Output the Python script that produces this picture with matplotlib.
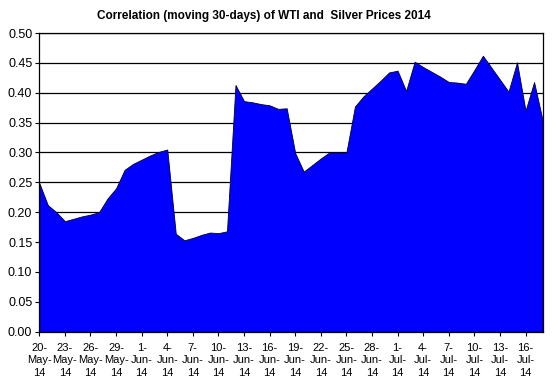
import matplotlib
matplotlib.use("Agg")
import matplotlib.pyplot as plt
import numpy as np

plt.rcParams['font.family'] = ['Liberation Sans', 'DejaVu Sans']

# daily values, 20-May-14 .. 18-Jul-14
start_label = "20-May-14"
correlation = [
    0.249, 0.212, 0.200, 0.185, 0.189, 0.193, 0.196, 0.200, 0.223, 0.240,
    0.271, 0.281, 0.288, 0.295, 0.301, 0.305, 0.164, 0.153, 0.157, 0.162,
    0.166, 0.165, 0.168, 0.413, 0.386, 0.384, 0.381, 0.379, 0.373, 0.374,
    0.299, 0.268, 0.279, 0.290, 0.300, 0.300, 0.300, 0.377, 0.394, 0.407,
    0.420, 0.434, 0.437, 0.403, 0.452, 0.443, 0.435, 0.427, 0.418, 0.417,
    0.415, 0.438, 0.462, 0.442, 0.422, 0.402, 0.451, 0.370, 0.418, 0.354,
]
tick_labels = [
    "20-\nMay-\n14", "23-\nMay-\n14", "26-\nMay-\n14", "29-\nMay-\n14",
    "1-\nJun-\n14", "4-\nJun-\n14", "7-\nJun-\n14", "10-\nJun-\n14",
    "13-\nJun-\n14", "16-\nJun-\n14", "19-\nJun-\n14", "22-\nJun-\n14",
    "25-\nJun-\n14", "28-\nJun-\n14", "1-\nJul-\n14", "4-\nJul-\n14",
    "7-\nJul-\n14", "10-\nJul-\n14", "13-\nJul-\n14", "16-\nJul-\n14",
]
y_ticks = [0.00, 0.05, 0.10, 0.15, 0.20, 0.25, 0.30, 0.35, 0.40, 0.45, 0.50]

days = np.arange(len(correlation))

fig = plt.figure(figsize=(5.58, 3.86), dpi=100)
ax = fig.add_axes([0.0704, 0.1407, 0.902, 0.7738])

ax.fill_between(days, correlation, 0, facecolor="#0000FF", edgecolor="#000033",
                linewidth=0.6, zorder=2)

ax.set_xlim(0, len(correlation) - 1)
ax.set_ylim(0, 0.5)
ax.set_yticks(y_ticks)
ax.set_yticklabels([f"{v:.2f}" for v in y_ticks], fontsize=9)
ax.set_xticks(days[::3])
ax.set_xticklabels(tick_labels, fontsize=8, linespacing=1.3)

ax.grid(axis="y", color="black", linewidth=0.9, zorder=1)
ax.set_axisbelow(True)
ax.tick_params(axis="both", direction="out", length=3, width=0.8, color="black", pad=2)
ax.tick_params(axis="x", pad=5)
for sp in ax.spines.values():
    sp.set_color("black")
    sp.set_linewidth(0.9)

fig.text(0.472, 0.958, "Correlation (moving 30-days) of WTI and  Silver Prices 2014",
         ha="center", va="center", fontsize=8.5, fontweight="bold")

fig.savefig("out.png", dpi=100, facecolor="white")
